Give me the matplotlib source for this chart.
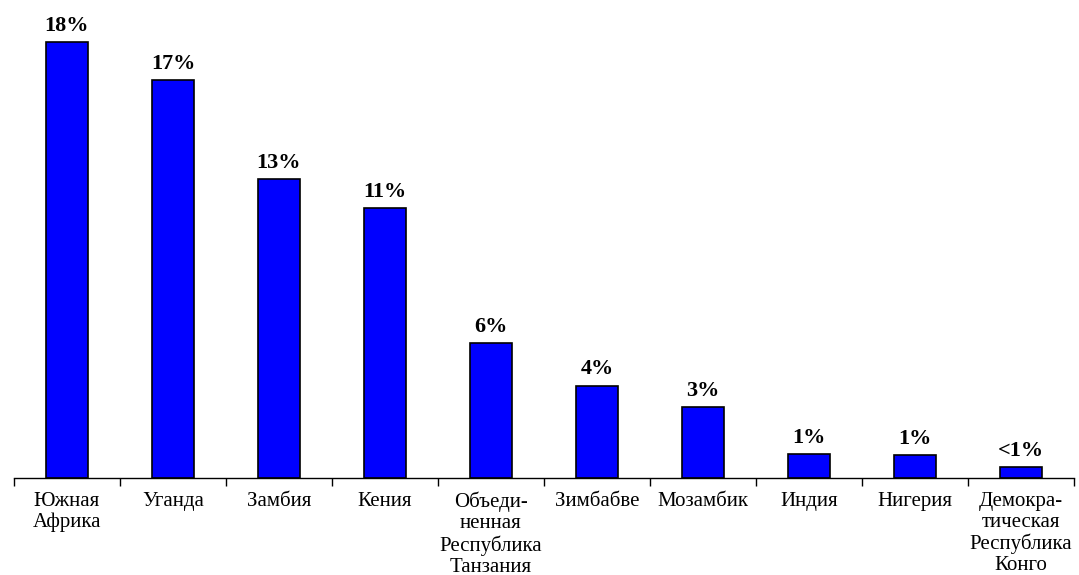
import matplotlib
matplotlib.use("Agg")
import matplotlib.pyplot as plt

countries = [
    "Южная\nАфрика", "Уганда", "Замбия", "Кения",
    "Объеди-\nненная\nРеспублика\nТанзания",
    "Зимбабве", "Мозамбик", "Индия", "Нигерия",
    "Демокра-\nтическая\nРеспублика\nКонго",
]
shares = [18.4, 16.8, 12.6, 11.4, 5.7, 3.9, 3.0, 1.0, 0.97, 0.46]
share_labels = ["18%", "17%", "13%", "11%", "6%", "4%", "3%", "1%", "1%", "<1%"]

plt.rcParams["font.family"] = ["Liberation Serif", "DejaVu Serif"]

fig = plt.figure(figsize=(10.79, 5.75), dpi=100)
ax = fig.add_axes([14 / 1079, 97 / 575, 1060 / 1079, 478 / 575])

x = range(len(countries))
bars = ax.bar(x, shares, width=0.4, color="#0000ff", edgecolor="black", linewidth=1.2)

for rect, lab in zip(bars, share_labels):
    ax.annotate(lab, (rect.get_x() + rect.get_width() / 2, rect.get_height()),
                xytext=(0, 4.5), textcoords="offset points",
                ha="center", va="bottom", fontsize=16, fontweight="bold")

ax.set_xlim(-0.5, len(countries) - 0.5)
ax.set_ylim(0, 20.17)

for side in ("left", "right", "top"):
    ax.spines[side].set_visible(False)
ax.spines["bottom"].set_linewidth(1.0)
ax.set_yticks([])

ax.set_xticks([i - 0.5 for i in range(len(countries) + 1)])
ax.set_xticklabels([])
ax.set_xticks(list(x), minor=True)
ax.set_xticklabels(countries, minor=True, fontsize=15, linespacing=1.13, va="top")
ax.tick_params(axis="x", which="major", direction="out", length=6, width=1)
ax.tick_params(axis="x", which="minor", length=0, pad=10)

fig.savefig("out.png", dpi=100)
